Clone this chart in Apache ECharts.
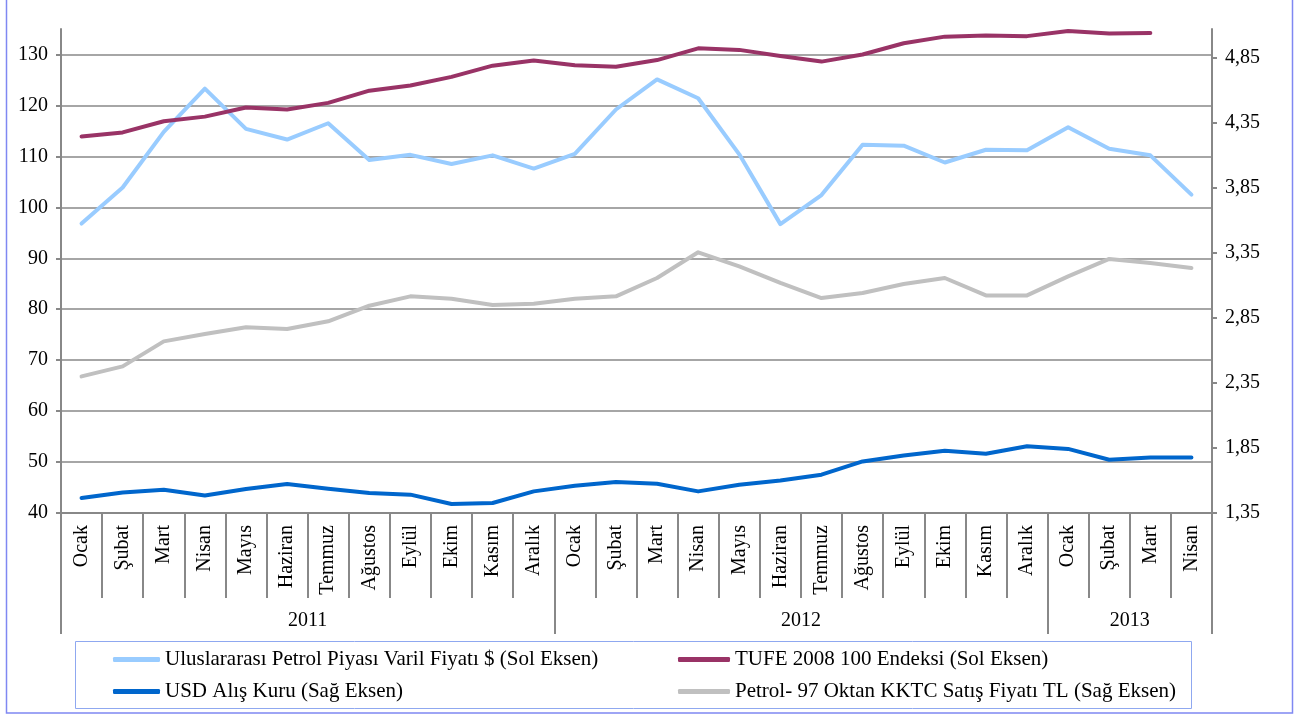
<!DOCTYPE html>
<html>
<head>
<meta charset="utf-8">
<script src="https://cdn.jsdelivr.net/npm/echarts@6/dist/echarts.min.js"></script>
<style>
html,body{margin:0;padding:0;background:#fff;}
#chart{width:1300px;height:717px;}
</style>
</head>
<body>
<div id="chart"></div>
<script>
// ---- Data ----
const years = ['2011', '2012', '2013'];
const monthsPerYear = [12, 12, 4];
const monthNames = ['Ocak','Şubat','Mart','Nisan','Mayıs','Haziran','Temmuz','Ağustos','Eylül','Ekim','Kasım','Aralık'];

const seriesNames = [
  'Uluslararası Petrol Piyası Varil Fiyatı $ (Sol Eksen)',
  'TUFE 2008 100 Endeksi (Sol Eksen)',
  'USD Alış Kuru (Sağ Eksen)',
  'Petrol- 97 Oktan KKTC Satış Fiyatı TL (Sağ Eksen)'
];

const oilUSD = [96.8, 103.9, 114.8, 123.3, 115.4, 113.3, 116.5, 109.3, 110.3, 108.5, 110.2, 107.6,
                110.5, 119.2, 125.1, 121.4, 110.4, 96.7, 102.4, 112.3, 112.1, 108.8, 111.3, 111.2,
                115.7, 111.5, 110.2, 102.5];
const tufe = [113.9, 114.7, 116.9, 117.8, 119.6, 119.2, 120.5, 122.9, 123.9, 125.6, 127.8, 128.8,
              127.9, 127.6, 128.9, 131.2, 130.9, 129.7, 128.6, 130.0, 132.2, 133.5, 133.7, 133.6,
              134.6, 134.1, 134.2, null];
const usd = [1.465, 1.508, 1.529, 1.485, 1.534, 1.573, 1.537, 1.504, 1.491, 1.419, 1.427, 1.516,
             1.560, 1.588, 1.575, 1.516, 1.567, 1.600, 1.644, 1.746, 1.792, 1.828, 1.805, 1.862,
             1.842, 1.759, 1.777, 1.777];
const petrol97 = [2.399, 2.476, 2.668, 2.725, 2.776, 2.763, 2.822, 2.942, 3.014, 2.996, 2.947, 2.957,
                  2.996, 3.014, 3.155, 3.352, 3.244, 3.117, 3.001, 3.040, 3.109, 3.155, 3.021, 3.021,
                  3.167, 3.301, 3.270, 3.232];

const leftTicks = [40, 50, 60, 70, 80, 90, 100, 110, 120, 130];
const rightTicks = [1.35, 1.85, 2.35, 2.85, 3.35, 3.85, 4.35, 4.85];

// ---- Derived category structures ----
const categories = [];
const catYear = [];
const groupStarts = [];
const groupLabelIdx = [];
years.forEach((y, gi) => {
  groupStarts.push(categories.length);
  const n = monthsPerYear[gi];
  groupLabelIdx.push(categories.length + Math.ceil(n / 2));
  for (let m = 0; m < n; m++) {
    categories.push(monthNames[m]);
    catYear.push(y);
  }
});

const FONT = '"Liberation Serif", "Times New Roman", serif';
const GRAY = '#888888';
const colors = ['#99CCFF', '#993366', '#0066CC', '#C0C0C0'];

const chart = echarts.init(document.getElementById('chart'), null, {renderer: 'canvas'});

const option = {
  animation: false,
  backgroundColor: '#ffffff',
  textStyle: {fontFamily: FONT, color: '#000'},
  grid: {left: 61, right: 88, top: 29, bottom: 204, containLabel: false},
  xAxis: [
    {
      type: 'category',
      data: categories,
      boundaryGap: true,
      axisLine: {show: true, lineStyle: {color: GRAY, width: 2}},
      axisTick: {show: true, interval: 0, length: 85, alignWithLabel: false, lineStyle: {color: GRAY, width: 2}},
      axisLabel: {interval: 0, rotate: 90, margin: 12, fontSize: 20, fontFamily: FONT, color: '#000'},
      splitLine: {show: false}
    },
    {
      type: 'category',
      data: categories,
      position: 'bottom',
      boundaryGap: true,
      axisLine: {show: false},
      axisTick: {
        show: true,
        length: 121,
        alignWithLabel: false,
        interval: function (index) { return groupStarts.indexOf(index) >= 0; },
        lineStyle: {color: GRAY, width: 2}
      },
      axisLabel: {
        interval: function (index) { return groupLabelIdx.indexOf(index) >= 0; },
        formatter: function (value, index) { return catYear[index]; },
        margin: 98,
        fontSize: 20,
        fontFamily: FONT,
        color: '#000',
        padding: [0, 41, 0, 0]
      },
      splitLine: {show: false}
    }
  ],
  yAxis: [
    {
      type: 'value',
      position: 'left',
      min: 40,
      max: 135,
      interval: 10,
      axisLine: {show: true, lineStyle: {color: GRAY, width: 2}},
      axisTick: {show: true, length: 5, lineStyle: {color: GRAY, width: 2}, customValues: leftTicks},
      axisLabel: {margin: 13, fontSize: 20, fontFamily: FONT, color: '#000', customValues: leftTicks},
      splitLine: {show: true, lineStyle: {color: GRAY, width: 1.5}}
    },
    {
      type: 'value',
      position: 'right',
      min: 1.35,
      max: 5.067,
      interval: 0.5,
      axisLine: {show: true, lineStyle: {color: GRAY, width: 2}},
      axisTick: {show: true, length: 5, lineStyle: {color: GRAY, width: 2}, customValues: rightTicks},
      axisLabel: {
        margin: 13, fontSize: 20, fontFamily: FONT, color: '#000',
        customValues: rightTicks,
        formatter: function (v) { return v.toFixed(2).replace('.', ','); }
      },
      splitLine: {show: false}
    }
  ],
  legend: [
    {
      data: [seriesNames[0], seriesNames[2]],
      orient: 'vertical',
      left: 108,
      top: 644,
      itemGap: 11,
      itemWidth: 47,
      itemHeight: 5,
      icon: 'roundRect',
      textStyle: {fontFamily: FONT, fontSize: 21, color: '#000'}
    },
    {
      data: [seriesNames[1], seriesNames[3]],
      orient: 'vertical',
      left: 673,
      top: 644,
      itemGap: 11,
      itemWidth: 52,
      itemHeight: 5,
      icon: 'roundRect',
      textStyle: {fontFamily: FONT, fontSize: 21, color: '#000'}
    }
  ],
  graphic: [
    {
      type: 'rect',
      silent: true,
      z: -1,
      shape: {x: 75.5, y: 641.5, width: 1116, height: 67},
      style: {fill: 'none', stroke: '#8FA8F0', lineWidth: 1}
    },
    {
      type: 'rect',
      silent: true,
      z: -1,
      shape: {x: 6.5, y: -5, width: 1286, height: 718},
      style: {fill: 'none', stroke: '#7F88F2', lineWidth: 1.5}
    }
  ],
  series: [
    {name: seriesNames[0], type: 'line', data: oilUSD, yAxisIndex: 0, xAxisIndex: 0, showSymbol: false, symbol: 'none',
     lineStyle: {color: colors[0], width: 4, cap: 'round', join: 'round'}, itemStyle: {color: colors[0]}},
    {name: seriesNames[1], type: 'line', data: tufe, yAxisIndex: 0, xAxisIndex: 0, showSymbol: false, symbol: 'none',
     lineStyle: {color: colors[1], width: 4, cap: 'round', join: 'round'}, itemStyle: {color: colors[1]}},
    {name: seriesNames[2], type: 'line', data: usd, yAxisIndex: 1, xAxisIndex: 0, showSymbol: false, symbol: 'none',
     lineStyle: {color: colors[2], width: 4, cap: 'round', join: 'round'}, itemStyle: {color: colors[2]}},
    {name: seriesNames[3], type: 'line', data: petrol97, yAxisIndex: 1, xAxisIndex: 0, showSymbol: false, symbol: 'none',
     lineStyle: {color: colors[3], width: 4, cap: 'round', join: 'round'}, itemStyle: {color: colors[3]}}
  ]
};

chart.setOption(option);
</script>
</body>
</html>
